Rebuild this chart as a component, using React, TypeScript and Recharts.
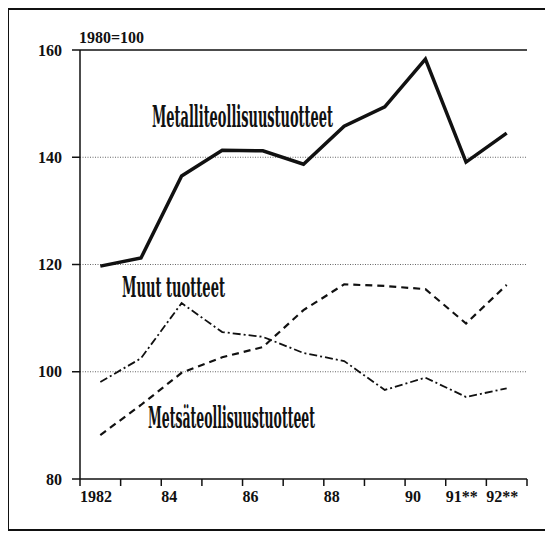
import { LineChart, Line, XAxis, YAxis, ReferenceLine } from 'recharts';

const years = [1982, 1983, 1984, 1985, 1986, 1987, 1988, 1989, 1990, 1991, 1992];
const metalli = [119.7, 121.2, 136.5, 141.3, 141.2, 138.7, 145.8, 149.4, 158.3, 139.1, 144.5];
const muut = [98.1, 102.5, 112.8, 107.4, 106.5, 103.5, 102, 96.6, 98.9, 95.3, 96.9];
const metsa = [88.2, 93.8, 99.8, 102.7, 104.6, 111.5, 116.3, 116, 115.4, 109, 116.2];

const xTicks = [1982, 1983, 1984, 1985, 1986, 1987, 1988, 1989, 1990, 1991, 1992, 1993];
const xLabels: { [key: number]: string } = {
  1982: '1982',
  1984: '84',
  1986: '86',
  1988: '88',
  1990: '90',
  1991: '91**',
  1992: '92**',
};
const yMajor = [80, 100, 120, 140, 160];
const yMinor = [90, 110, 130, 150];
const yAll = [80, 90, 100, 110, 120, 130, 140, 150, 160];
const gridLines = [100, 120, 140];

// each year is drawn in the middle of its interval
const data = years.map((y, i) => ({
  x: y + 0.5,
  metalli: metalli[i],
  muut: muut[i],
  metsa: metsa[i],
}));

const ink = '#111';
const tickFont = { fontFamily: 'Liberation Serif', fontSize: 16, fontWeight: 'bold', fill: ink };
const labelFont = { fontFamily: 'DejaVu Serif', fontWeight: 'bold', fill: ink };

const XTick = (props: any) => {
  const { x, y, payload } = props;
  return (
    <text x={x} y={y} dy={14} textAnchor='start' {...tickFont}>
      {xLabels[payload.value] ?? ''}
    </text>
  );
};

// condensed series label: squeezed horizontally to the given width
const SeriesLabel = ({ x, y, size, width, text }: { x: number; y: number; size: number; width: number; text: string }) => {
  const sx = 0.46;
  return (
    <text
      transform={`translate(${x},${y}) scale(${sx},1)`}
      fontSize={size}
      textLength={width / sx}
      lengthAdjust='spacingAndGlyphs'
      {...labelFont}
    >
      {text}
    </text>
  );
};

const App = () => {
  return (
    <div style={{ position: 'relative', width: 545, height: 530 }}>
      <LineChart
        width={545}
        height={530}
        data={data}
        margin={{ top: 42, right: 26, left: 0, bottom: 29 }}
      >
        <XAxis
          dataKey='x'
          type='number'
          domain={[1982, 1993]}
          ticks={xTicks}
          interval={0}
          height={30}
          tickSize={7}
          tick={<XTick />}
          axisLine={{ stroke: ink, strokeWidth: 1.5 }}
          tickLine={{ stroke: ink, strokeWidth: 1.5 }}
        />
        <YAxis
          yAxisId='minor'
          domain={[80, 160]}
          ticks={yMinor}
          width={0}
          mirror
          tickSize={6}
          axisLine={false}
          tickFormatter={() => ''}
          tickLine={{ stroke: ink, strokeWidth: 1.2 }}
        />
        <YAxis
          yAxisId='main'
          domain={[80, 160]}
          ticks={yMajor}
          width={72}
          tickSize={8}
          tickMargin={10}
          tick={tickFont}
          axisLine={{ stroke: ink, strokeWidth: 1.5 }}
          tickLine={{ stroke: ink, strokeWidth: 1.5 }}
        />
        <YAxis
          yAxisId='right'
          orientation='right'
          domain={[80, 160]}
          ticks={yAll}
          width={0}
          mirror
          tickSize={6}
          tickFormatter={() => ''}
          axisLine={{ stroke: ink, strokeWidth: 1.5 }}
          tickLine={{ stroke: ink, strokeWidth: 1.2 }}
        />
        {gridLines.map((v) => (
          <ReferenceLine key={v} yAxisId='main' y={v} stroke='#666' strokeDasharray='1 1.5' />
        ))}
        <ReferenceLine yAxisId='main' y={160} stroke={ink} strokeWidth={1.5} />
        <Line
          yAxisId='main'
          type='linear'
          dataKey='metalli'
          stroke={ink}
          strokeWidth={3.5}
          dot={false}
          isAnimationActive={false}
        />
        <Line
          yAxisId='main'
          type='linear'
          dataKey='muut'
          stroke={ink}
          strokeWidth={1.8}
          strokeDasharray='8 3 2 3'
          dot={false}
          isAnimationActive={false}
        />
        <Line
          yAxisId='main'
          type='linear'
          dataKey='metsa'
          stroke={ink}
          strokeWidth={2.2}
          strokeDasharray='7 5'
          dot={false}
          isAnimationActive={false}
        />
      </LineChart>
      <svg
        width={545}
        height={530}
        style={{ position: 'absolute', left: 0, top: 0, pointerEvents: 'none' }}
      >
        <text x={71} y={35} textLength={65} lengthAdjust='spacingAndGlyphs' {...tickFont}>
          1980=100
        </text>
        <SeriesLabel x={144} y={119} size={30} width={181} text='Metalliteollisuustuotteet' />
        <SeriesLabel x={114} y={289} size={27} width={103} text='Muut tuotteet' />
        <SeriesLabel x={140} y={420} size={29} width={167} text='Metsäteollisuustuotteet' />
      </svg>
      <div
        style={{
          position: 'absolute',
          left: -1,
          top: 0,
          width: 540,
          height: 523,
          border: '2px solid #111',
          boxSizing: 'border-box',
          pointerEvents: 'none',
        }}
      />
    </div>
  );
};

export default App;
